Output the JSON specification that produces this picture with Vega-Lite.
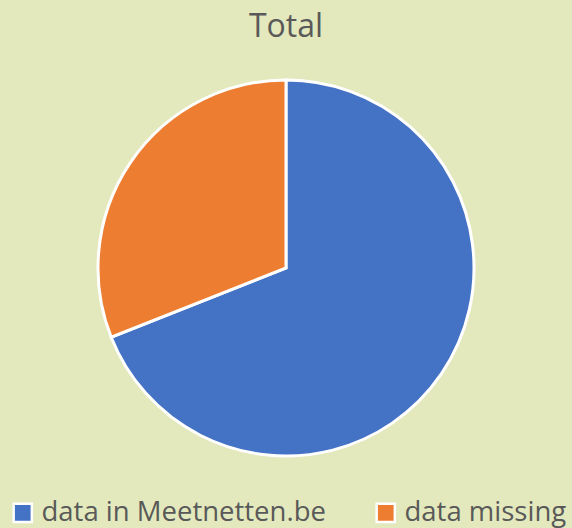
{
  "$schema": "https://vega.github.io/schema/vega-lite/v6.json",
  "width": 572,
  "height": 416,
  "autosize": "none",
  "padding": {"left": 0, "right": 0, "top": 60, "bottom": 52},
  "background": "#E3E9BC",
  "title": {
    "text": "Total",
    "font": "Open Sans",
    "fontSize": 32,
    "fontWeight": "normal",
    "color": "#595959",
    "anchor": "middle",
    "offset": 16
  },
  "data": {
    "values": [
      {"category": "data in Meetnetten.be", "value": 69},
      {"category": "data missing", "value": 31}
    ]
  },
  "mark": {"type": "arc", "outerRadius": 188, "stroke": "white", "strokeWidth": 3},
  "encoding": {
    "theta": {"field": "value", "type": "quantitative", "stack": true},
    "color": {
      "field": "category",
      "type": "nominal",
      "scale": {"domain": ["data in Meetnetten.be", "data missing"], "range": ["#4472C4", "#ED7D31"]},
      "legend": {
        "title": null,
        "orient": "none",
        "legendX": 9,
        "legendY": 439,
        "direction": "horizontal",
        "labelFont": "Open Sans",
        "labelFontSize": 27.5,
        "labelColor": "#595959",
        "labelLimit": 0,
        "symbolType": "square",
        "symbolSize": 330,
        "symbolStrokeColor": "white",
        "symbolStrokeWidth": 2.5,
        "symbolOpacity": 1,
        "columnPadding": 45,
        "labelOffset": 5
      }
    }
  },
  "config": {"view": {"stroke": null}}
}
